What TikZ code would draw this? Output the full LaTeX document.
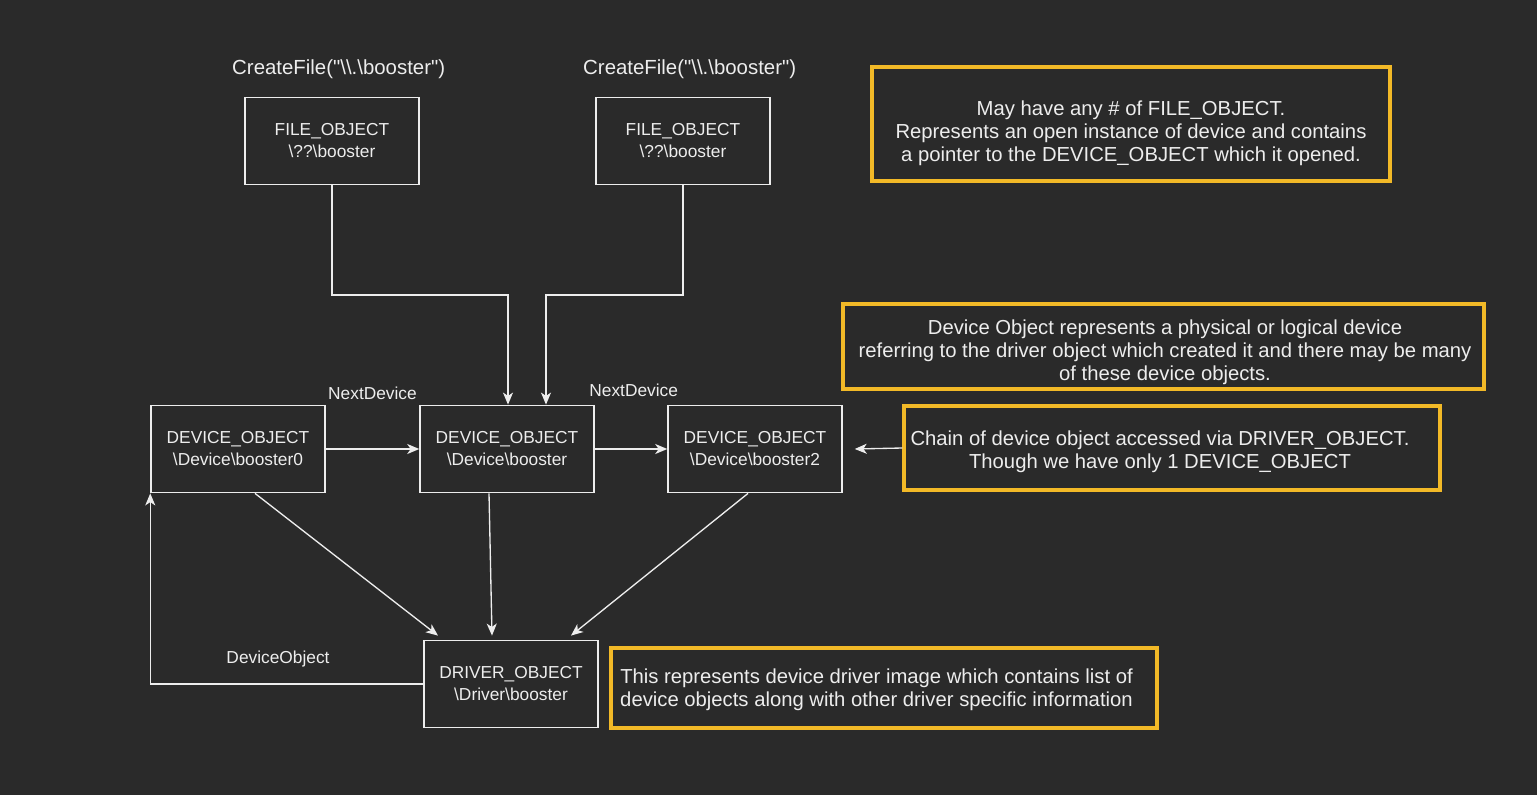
\documentclass[tikz,border=0pt]{standalone}
\usepackage{fontspec}
\setmainfont{Liberation Sans}
\usepackage{tikz}
\usetikzlibrary{arrows.meta, positioning}

\definecolor{bgdark}{HTML}{2A2A2A}
\definecolor{linegray}{HTML}{EDEDED}
\definecolor{noteyellow}{HTML}{F2B927}

\begin{document}
\begin{tikzpicture}[
        x=0.75pt, y=-0.75pt,
        every node/.style={text=linegray, font=\fontsize{13}{16.5}\selectfont},
        objbox/.style={rectangle, draw=linegray, line width=1.1pt, fill=bgdark, minimum width=130.5pt, minimum height=65.5pt, align=center, inner sep=0pt},
        note/.style={rectangle, draw=noteyellow, line width=2.3pt, inner sep=0pt},
        notetext/.style={align=center, inner sep=0pt, font=\fontsize{15.2}{17.25}\selectfont},
        caption/.style={font=\fontsize{15.3}{18}\selectfont},
        arrow/.style={-{Stealth[length=9pt, width=7.5pt, inset=2.5pt]}, draw=linegray, line width=1pt}
    ]
        % background and page size
        \fill[bgdark] (0,0) rectangle (1537,795);
        \useasboundingbox (0,0) rectangle (1537,795);

        % objects
        \node[objbox] (file1) at (332,141) {FILE\_OBJECT\\ \textbackslash ??\textbackslash booster};
        \node[objbox] (file2) at (683,141) {FILE\_OBJECT\\ \textbackslash ??\textbackslash booster};
        \node[caption, above=10pt of file1.north, xshift=5pt] (create1) {CreateFile(\textquotedbl\textbackslash\textbackslash .\textbackslash booster\textquotedbl)};
        \node[caption, above=10pt of file2.north, xshift=5pt] (create2) {CreateFile(\textquotedbl\textbackslash\textbackslash .\textbackslash booster\textquotedbl)};

        \node[objbox] (dev0) at (238,449) {DEVICE\_OBJECT\\ \textbackslash Device\textbackslash booster0};
        \node[objbox] (dev) at (507,449) {DEVICE\_OBJECT\\ \textbackslash Device\textbackslash booster};
        \node[objbox] (dev2) at (755,449) {DEVICE\_OBJECT\\ \textbackslash Device\textbackslash booster2};
        \node[objbox] (drv) at (511,684) {DRIVER\_OBJECT\\ \textbackslash Driver\textbackslash booster};

        % notes (frame + text)
        \node[note, minimum width=388.5pt, minimum height=85.5pt] (notefile) at (1131,124) {};
        \node[notetext] (notefiletxt) at (1131,133) {May have any \# of FILE\_OBJECT.\\ Represents an open instance of device and contains\\ a pointer to the DEVICE\_OBJECT which it opened.};
        \node[note, minimum width=480.75pt, minimum height=63.75pt] (notedev) at (1163.5,346.5) {};
        \node[notetext] (notedevtxt) at (1165,352) {Device Object represents a physical or logical device\\ referring to the driver object which created it and there may be many\\ of these device objects.};
        \node[note, minimum width=402pt, minimum height=63pt] (notechain) at (1172,448) {};
        \node[notetext] (notechaintxt) at (1160,452) {Chain of device object accessed via DRIVER\_OBJECT.\\ Though we have only 1 DEVICE\_OBJECT};
        \node[note, minimum width=409.5pt, minimum height=60pt] (notedrv) at (884,688) {};
        \node[notetext] (notedrvtxt) at (876.5,690) {This represents device driver image which contains list of\\ device objects along with other driver specific information};

        % connectors
        \coordinate (bend1) at (332,295);
        \coordinate (bend2) at (683,295);
        \draw[arrow] (file1.south) -- (bend1) -| ([xshift=0.75pt]dev.north);
        \draw[arrow] (file2.south) -- (bend2) -| ([xshift=29.25pt]dev.north);
        \draw[arrow] (dev0) -- (dev) node[pos=0.5, above=33pt] {NextDevice};
        \draw[arrow] (dev) -- (dev2) node[pos=0.5, above=35.5pt, xshift=2pt] {NextDevice};
        \draw[arrow] (notechain.west) -- ([xshift=9pt]dev2.east);
        \draw[arrow] ([xshift=12.75pt]dev0.south) -- ([xshift=-54.75pt, yshift=3pt]drv.north);
        \draw[arrow] ([xshift=-13.5pt]dev.south) -- ([xshift=-14.25pt, yshift=3pt]drv.north);
        \draw[arrow] ([xshift=-5.25pt]dev2.south) -- ([xshift=45pt, yshift=3pt]drv.north);
        \draw[arrow] (drv.west) -| (dev0.south west) node[pos=0.266, above=9pt] {DeviceObject};
    \end{tikzpicture}
\end{document}
